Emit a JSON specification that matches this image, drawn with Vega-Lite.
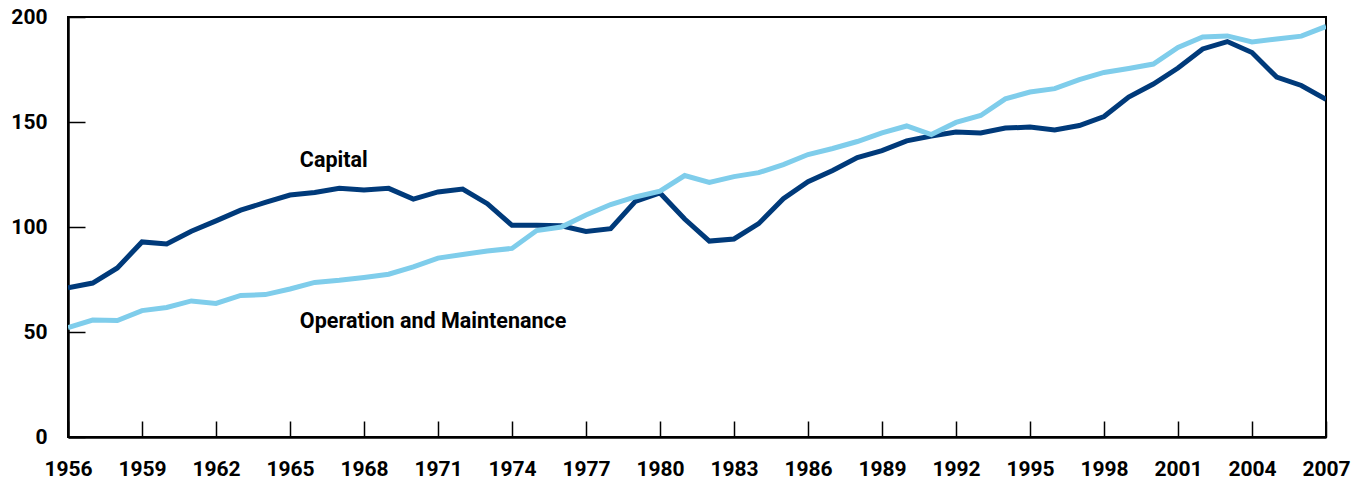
{
  "$schema": "https://vega.github.io/schema/vega-lite/v6.json",
  "width": 1258,
  "height": 420,
  "autosize": {"type": "none"},
  "padding": {"left": 68, "top": 17, "right": 33, "bottom": 46},
  "background": "white",
  "config": {
    "view": {"stroke": "black", "strokeWidth": 2},
    "font": "Roboto",
    "axis": {"grid": false}
  },
  "datasets": {
    "series": [
      {"year": 1956, "series": "Capital", "value": 71},
      {"year": 1957, "series": "Capital", "value": 73.3},
      {"year": 1958, "series": "Capital", "value": 80.5},
      {"year": 1959, "series": "Capital", "value": 92.9},
      {"year": 1960, "series": "Capital", "value": 91.9},
      {"year": 1961, "series": "Capital", "value": 98},
      {"year": 1962, "series": "Capital", "value": 102.9},
      {"year": 1963, "series": "Capital", "value": 108},
      {"year": 1964, "series": "Capital", "value": 111.7},
      {"year": 1965, "series": "Capital", "value": 115.2},
      {"year": 1966, "series": "Capital", "value": 116.4},
      {"year": 1967, "series": "Capital", "value": 118.4},
      {"year": 1968, "series": "Capital", "value": 117.6},
      {"year": 1969, "series": "Capital", "value": 118.4},
      {"year": 1970, "series": "Capital", "value": 113.3},
      {"year": 1971, "series": "Capital", "value": 116.7},
      {"year": 1972, "series": "Capital", "value": 118.1},
      {"year": 1973, "series": "Capital", "value": 111.1},
      {"year": 1974, "series": "Capital", "value": 100.8},
      {"year": 1975, "series": "Capital", "value": 100.8},
      {"year": 1976, "series": "Capital", "value": 100.6},
      {"year": 1977, "series": "Capital", "value": 97.9},
      {"year": 1978, "series": "Capital", "value": 99.2},
      {"year": 1979, "series": "Capital", "value": 112.2},
      {"year": 1980, "series": "Capital", "value": 116.2},
      {"year": 1981, "series": "Capital", "value": 103.8},
      {"year": 1982, "series": "Capital", "value": 93.3},
      {"year": 1983, "series": "Capital", "value": 94.3},
      {"year": 1984, "series": "Capital", "value": 101.6},
      {"year": 1985, "series": "Capital", "value": 113.5},
      {"year": 1986, "series": "Capital", "value": 121.6},
      {"year": 1987, "series": "Capital", "value": 126.9},
      {"year": 1988, "series": "Capital", "value": 133.1},
      {"year": 1989, "series": "Capital", "value": 136.4},
      {"year": 1990, "series": "Capital", "value": 141},
      {"year": 1991, "series": "Capital", "value": 143.3},
      {"year": 1992, "series": "Capital", "value": 145.2},
      {"year": 1993, "series": "Capital", "value": 144.8},
      {"year": 1994, "series": "Capital", "value": 147.1},
      {"year": 1995, "series": "Capital", "value": 147.6},
      {"year": 1996, "series": "Capital", "value": 146.2},
      {"year": 1997, "series": "Capital", "value": 148.3},
      {"year": 1998, "series": "Capital", "value": 152.6},
      {"year": 1999, "series": "Capital", "value": 161.9},
      {"year": 2000, "series": "Capital", "value": 168.1},
      {"year": 2001, "series": "Capital", "value": 175.7},
      {"year": 2002, "series": "Capital", "value": 184.8},
      {"year": 2003, "series": "Capital", "value": 188.3},
      {"year": 2004, "series": "Capital", "value": 183.1},
      {"year": 2005, "series": "Capital", "value": 171.4},
      {"year": 2006, "series": "Capital", "value": 167.4},
      {"year": 2007, "series": "Capital", "value": 160.8},
      {"year": 1956, "series": "O&M", "value": 52.1},
      {"year": 1957, "series": "O&M", "value": 55.7},
      {"year": 1958, "series": "O&M", "value": 55.5},
      {"year": 1959, "series": "O&M", "value": 60.2},
      {"year": 1960, "series": "O&M", "value": 61.7},
      {"year": 1961, "series": "O&M", "value": 64.8},
      {"year": 1962, "series": "O&M", "value": 63.6},
      {"year": 1963, "series": "O&M", "value": 67.4},
      {"year": 1964, "series": "O&M", "value": 67.8},
      {"year": 1965, "series": "O&M", "value": 70.5},
      {"year": 1966, "series": "O&M", "value": 73.6},
      {"year": 1967, "series": "O&M", "value": 74.6},
      {"year": 1968, "series": "O&M", "value": 76},
      {"year": 1969, "series": "O&M", "value": 77.5},
      {"year": 1970, "series": "O&M", "value": 81},
      {"year": 1971, "series": "O&M", "value": 85.2},
      {"year": 1972, "series": "O&M", "value": 86.9},
      {"year": 1973, "series": "O&M", "value": 88.6},
      {"year": 1974, "series": "O&M", "value": 89.8},
      {"year": 1975, "series": "O&M", "value": 98.3},
      {"year": 1976, "series": "O&M", "value": 100},
      {"year": 1977, "series": "O&M", "value": 105.7},
      {"year": 1978, "series": "O&M", "value": 110.7},
      {"year": 1979, "series": "O&M", "value": 114.3},
      {"year": 1980, "series": "O&M", "value": 117.1},
      {"year": 1981, "series": "O&M", "value": 124.5},
      {"year": 1982, "series": "O&M", "value": 121.2},
      {"year": 1983, "series": "O&M", "value": 124},
      {"year": 1984, "series": "O&M", "value": 125.9},
      {"year": 1985, "series": "O&M", "value": 129.7},
      {"year": 1986, "series": "O&M", "value": 134.5},
      {"year": 1987, "series": "O&M", "value": 137.4},
      {"year": 1988, "series": "O&M", "value": 140.7},
      {"year": 1989, "series": "O&M", "value": 144.8},
      {"year": 1990, "series": "O&M", "value": 148.1},
      {"year": 1991, "series": "O&M", "value": 144},
      {"year": 1992, "series": "O&M", "value": 149.8},
      {"year": 1993, "series": "O&M", "value": 153.1},
      {"year": 1994, "series": "O&M", "value": 161},
      {"year": 1995, "series": "O&M", "value": 164.3},
      {"year": 1996, "series": "O&M", "value": 165.9},
      {"year": 1997, "series": "O&M", "value": 170.2},
      {"year": 1998, "series": "O&M", "value": 173.6},
      {"year": 1999, "series": "O&M", "value": 175.5},
      {"year": 2000, "series": "O&M", "value": 177.6},
      {"year": 2001, "series": "O&M", "value": 185.5},
      {"year": 2002, "series": "O&M", "value": 190.5},
      {"year": 2003, "series": "O&M", "value": 191},
      {"year": 2004, "series": "O&M", "value": 188.1},
      {"year": 2005, "series": "O&M", "value": 189.5},
      {"year": 2006, "series": "O&M", "value": 190.9},
      {"year": 2007, "series": "O&M", "value": 195.5}
    ],
    "labels": [
      {"year": 1965.4, "value": 131.3, "text": "Capital"},
      {"year": 1965.4, "value": 54.9, "text": "Operation and Maintenance"}
    ]
  },
  "layer": [
    {
      "data": {"name": "series"},
      "mark": {"type": "line", "strokeWidth": 5, "strokeJoin": "miter", "strokeCap": "butt", "clip": true},
      "encoding": {
        "x": {
          "field": "year", "type": "quantitative",
          "scale": {"domain": [1956, 2007], "nice": false, "zero": false},
          "axis": {
            "title": null,
            "values": [1956, 1959, 1962, 1965, 1968, 1971, 1974, 1977, 1980, 1983, 1986, 1989, 1992, 1995, 1998, 2001, 2004, 2007],
            "format": "d",
            "tickSize": -16,
            "tickWidth": 1.5,
            "tickColor": "black",
            "domainColor": "black",
            "domainWidth": 2.5,
            "labelFont": "Roboto",
            "labelFontWeight": "bold",
            "labelFontSize": 21,
            "labelColor": "black",
            "labelPadding": 37,
            "labelBaseline": "top",
            "labelFlush": false,
            "labelOverlap": false
          }
        },
        "y": {
          "field": "value", "type": "quantitative",
          "scale": {"domain": [0, 200], "nice": false},
          "axis": {
            "title": null,
            "values": [0, 50, 100, 150, 200],
            "tickSize": -17,
            "tickWidth": 1.5,
            "tickColor": "black",
            "domainColor": "black",
            "domainWidth": 2.5,
            "labelFont": "Roboto",
            "labelFontWeight": "bold",
            "labelFontSize": 21,
            "labelColor": "black",
            "labelPadding": 38,
            "labelFlush": false,
            "labelOverlap": false
          }
        },
        "color": {
          "field": "series", "type": "nominal",
          "scale": {"domain": ["Capital", "O&M"], "range": ["#003a7a", "#7fcdeb"]},
          "legend": null
        },
        "order": {"field": "year"}
      }
    },
    {
      "data": {"name": "labels"},
      "mark": {"type": "text", "align": "left", "baseline": "middle", "font": "Roboto", "fontWeight": "bold", "fontSize": 21.5, "color": "black"},
      "encoding": {
        "x": {"field": "year", "type": "quantitative"},
        "y": {"field": "value", "type": "quantitative"},
        "text": {"field": "text"}
      }
    }
  ]
}
